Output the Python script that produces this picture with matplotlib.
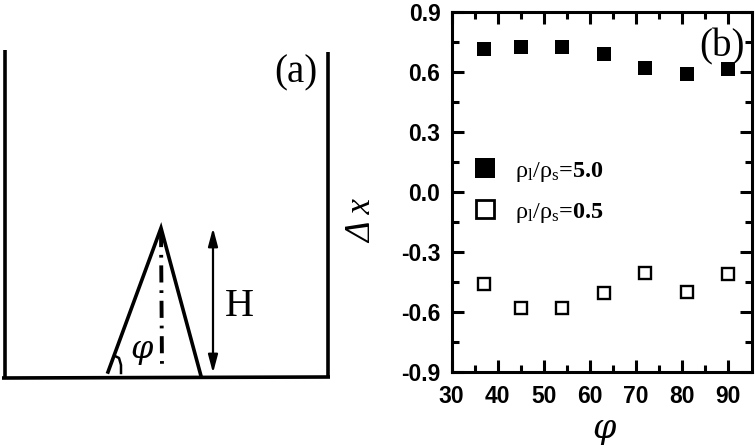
import matplotlib
matplotlib.use("Agg")
import matplotlib.pyplot as plt

plt.rcParams['font.family'] = ['Liberation Sans', 'DejaVu Sans']
plt.rcParams['mathtext.fontset'] = 'custom'
plt.rcParams['mathtext.rm'] = 'Liberation Serif'
plt.rcParams['mathtext.it'] = 'Liberation Serif:italic'
plt.rcParams['mathtext.bf'] = 'Liberation Serif:bold'

W, H = 755, 448

# Panel (b) data
phi = [37, 45, 54, 63, 72, 81, 90]
dx_high = [0.715, 0.725, 0.725, 0.69, 0.62, 0.59, 0.615]
dx_low = [-0.46, -0.58, -0.58, -0.505, -0.405, -0.50, -0.41]
label_high = r'$\mathrm{\rho_l/\rho_s}$=5.0'
label_low = r'$\mathrm{\rho_l/\rho_s}$=0.5'
x_ticks = [30, 40, 50, 60, 70, 80, 90]
y_ticks = [-0.9, -0.6, -0.3, 0.0, 0.3, 0.6, 0.9]

# Panel (a) schematic, in image pixels
wall_left_x = [5, 5]
wall_left_y = [50, 378]
wall_right_x = [328, 328]
wall_right_y = [52, 378]
floor_x = [2, 330]
floor_y = [378, 377]
cone_x = [108, 161, 201]
cone_y = [372, 228, 376]
axis_x = [161, 162]
axis_y = [230, 368]
arc_x = [115, 119, 121, 121]
arc_y = [356, 358, 365, 373]
arrow_x = 213
arrow_top = 228
arrow_bottom = 373

fig = plt.figure(figsize=(W / 100, H / 100), dpi=100)

# Schematic
bg = fig.add_axes([0, 0, 1, 1])
bg.set_xlim(0, W)
bg.set_ylim(H, 0)
bg.axis('off')
for xs, ys in [(wall_left_x, wall_left_y), (wall_right_x, wall_right_y), (floor_x, floor_y)]:
    bg.plot(xs, ys, color='black', lw=2.6, solid_capstyle='butt')
bg.plot(cone_x, cone_y, color='black', lw=2.6, solid_joinstyle='miter')
bg.plot(axis_x, axis_y, color='black', lw=2.8, linestyle=(0, (4.4, 2.0, 0.7, 2.0)))
bg.plot(arc_x, arc_y, color='black', lw=1.8)
bg.annotate('', xy=(arrow_x, arrow_top), xytext=(arrow_x, arrow_bottom),
            arrowprops=dict(arrowstyle='<|-|>,head_length=0.6,head_width=0.16', color='black', lw=1.6,
                            mutation_scale=18, shrinkA=0, shrinkB=0))
bg.text(239, 307, 'H', family='Liberation Serif', fontsize=29, ha='center', va='center')
bg.text(142, 352, r'$\varphi$', fontsize=23, ha='center', va='center',
        math_fontfamily='dejavuserif')
bg.text(296, 73, '(a)', family='Liberation Serif', fontsize=28, ha='center', va='center')

# Plot (b)
ax = fig.add_axes([451.5 / W, 1 - 372 / H, (751.5 - 451.5) / W, (372 - 12) / H])
ax.set_xlim(30, 95)
ax.set_ylim(-0.9, 0.9)
ax.patch.set_alpha(0)
h1, = ax.plot(phi, dx_high, 's', color='black', ms=9.5, mew=0, clip_on=False, label=label_high)
h2, = ax.plot(phi, dx_low, 's', mfc='white', mec='black', ms=8.5, mew=1.7, clip_on=False, label=label_low)

for s in ax.spines.values():
    s.set_linewidth(2.2)
ax.set_xticks(x_ticks)
ax.set_xticks(range(35, 95, 10), minor=True)
ax.set_yticks(y_ticks)
ax.set_yticks([-0.75, -0.45, -0.15, 0.15, 0.45, 0.75], minor=True)
ax.set_yticklabels([f'{v:.1f}' for v in y_ticks])
ax.tick_params(which='major', direction='in', top=True, right=True, length=8.5, width=2.2,
               labelsize=16.5, pad=8)
ax.tick_params(which='minor', direction='in', top=True, right=True, length=5, width=2.2)
ax.tick_params(axis='x', which='major', pad=9)
for lab in ax.get_xticklabels() + ax.get_yticklabels():
    lab.set_fontweight('bold')

ax.set_xlabel(r'$\varphi$', fontsize=24, math_fontfamily='dejavuserif', va='center')
ax.xaxis.set_label_coords(0.512, -0.165)
ax.set_ylabel('\u0394 x', fontsize=25, family='Liberation Serif', style='italic', va='center')
ax.yaxis.set_label_coords(-0.295, 0.42)

leg = ax.legend(handles=[h1, h2], loc='upper left', bbox_to_anchor=(0.055, 0.589), frameon=False,
                prop={'family': 'Liberation Serif', 'weight': 'bold', 'size': 17.5},
                labelspacing=0.7, handletextpad=0.55, borderpad=0, borderaxespad=0,
                markerscale=1, handlelength=1.4)
leg.legend_handles[0].set_markersize(15)
leg.legend_handles[1].set_markeredgewidth(2.0)
leg.legend_handles[1].set_markersize(12.5)

ax.text(722, 47, '(b)', family='Liberation Serif', fontsize=28, ha='center', va='center',
        transform=bg.transData, zorder=1)

fig.savefig('out.png', dpi=100)
